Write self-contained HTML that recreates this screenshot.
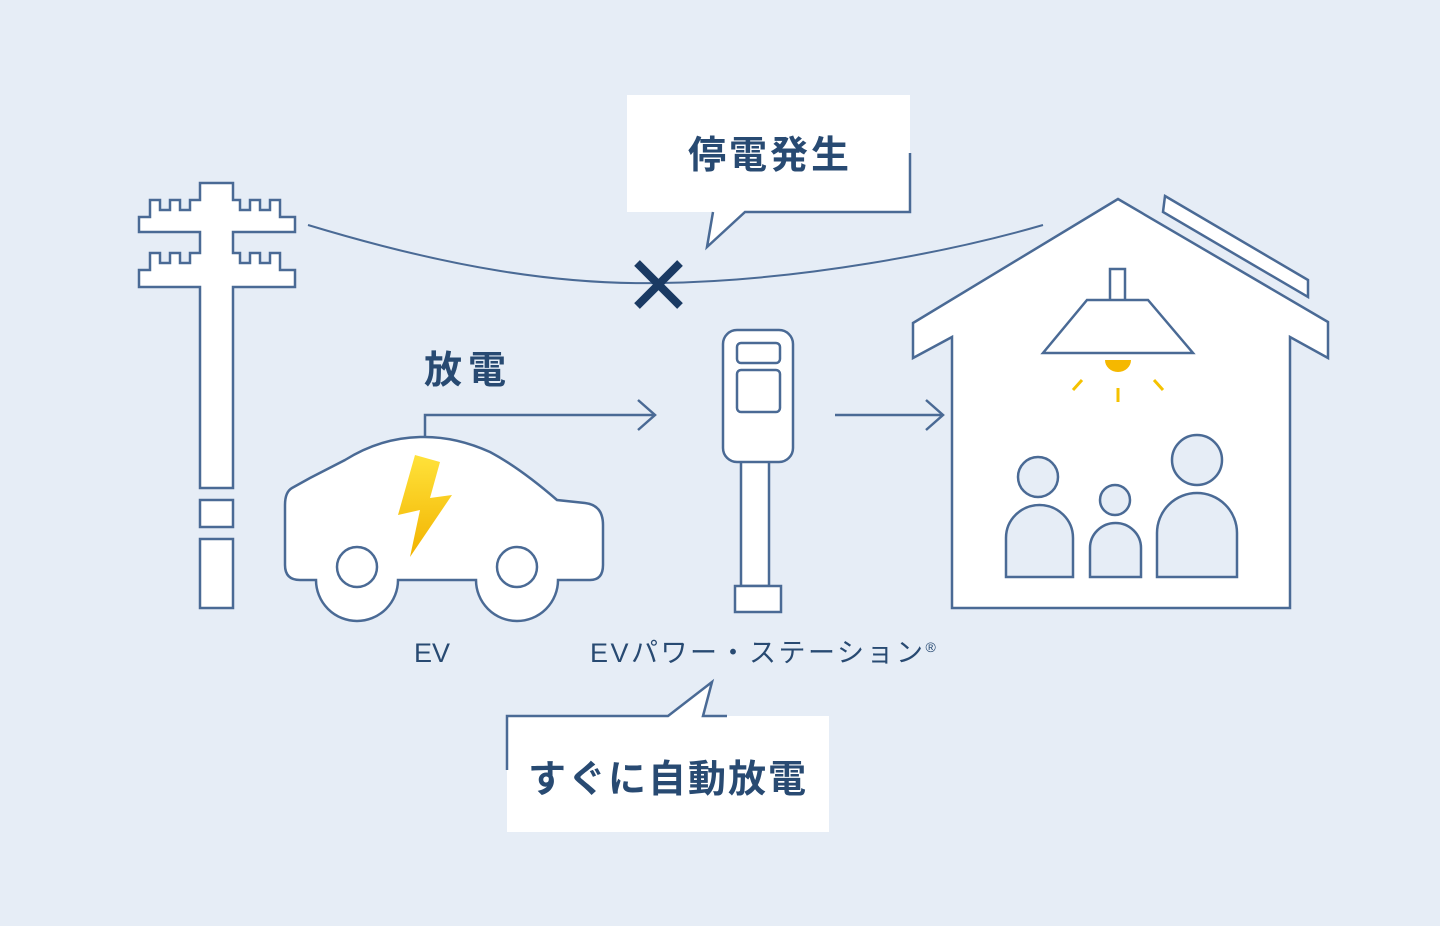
<!DOCTYPE html>
<html><head><meta charset="utf-8"><style>
html,body{margin:0;padding:0;background:#e6edf6;}
svg{display:block}
text{font-family:"Liberation Sans","Noto Sans CJK JP",sans-serif;fill:#284a72}
</style></head><body>
<svg width="1440" height="926" viewBox="0 0 1440 926" xmlns="http://www.w3.org/2000/svg">
<defs><linearGradient id="g" x1="0" y1="0" x2="0" y2="1"><stop offset="0" stop-color="#ffe23a"/><stop offset="1" stop-color="#f2b300"/></linearGradient></defs>
<rect width="1440" height="926" fill="#e6edf6"/>
<g fill="#fff" stroke="#4a6a95" stroke-width="2.5" stroke-linejoin="miter">
<path d="M200 183 H233 V200 H240 V210 H250 V200 H260 V210 H270 V200 H280 V217 H295 V232 H233 V253 H240 V263 H250 V253 H260 V263 H270 V253 H280 V270 H295 V287 H233 V488 H200 V287 H139 V270 H150 V253 H160 V263 H170 V253 H180 V263 H190 V253 H200 V232 H139 V217 H150 V200 H160 V210 H170 V200 H180 V210 H190 V200 H200 Z"/>
<rect x="200" y="500" width="33" height="27"/>
<rect x="200" y="539" width="33" height="69"/>
<path d="M292 488 Q285 492 285 505 L285 565 Q285 580 300 580 L316 580 A41 41 0 0 0 398 580 L476 580 A41 41 0 0 0 558 580 L590 580 Q603 580 603 565 L603 525 Q603 505 585 503 L557 500 Q520 468 490 452 Q455 436 420 437 Q380 438 345 460 L310 478 Z"/>
<circle cx="357" cy="567" r="20"/>
<circle cx="517" cy="567" r="20"/>
<rect x="741" y="460" width="28" height="126"/>
<rect x="735" y="586" width="46" height="26"/>
<rect x="723" y="330" width="70" height="132" rx="14"/>
<rect x="737" y="343" width="43" height="20" rx="4"/>
<rect x="737" y="370" width="43" height="42" rx="4"/>
<path d="M1118 199 L1328 322 L1328 358 L1290 337 L1290 608 L952 608 L952 337 L913 358 L913 323 Z"/>
<polygon points="1165,196 1308,280 1308,297 1163,212"/>
<rect x="1110" y="269" width="15" height="32"/>
<polygon points="1087,300 1148,300 1193,353 1043,353"/>
<g fill="#e6edf6">
<circle cx="1038" cy="477" r="20"/>
<path d="M1006 577 V538 A33.5 33 0 0 1 1073 538 V577 Z"/>
<circle cx="1115" cy="500" r="15"/>
<path d="M1090 577 V548 A25.5 25 0 0 1 1141 548 V577 Z"/>
<circle cx="1197" cy="460" r="25"/>
<path d="M1157 577 V533 A40 40 0 0 1 1237 533 V577 Z"/>
</g>
</g>
<path d="M1105 360 A13 12 0 0 0 1131 360 Z" fill="#f5b800"/>
<g stroke="#f5c200" stroke-width="3"><line x1="1073" y1="390" x2="1082" y2="380"/><line x1="1118" y1="388" x2="1118" y2="402"/><line x1="1154" y1="380" x2="1163" y2="390"/></g>
<polygon points="415,455 398,515 420,510 410,557 452,495 430,498 440,462" fill="url(#g)"/>
<path d="M308 225 C 450 268, 560 285, 660 283 C 800 281, 950 252, 1043 225" fill="none" stroke="#4a6a95" stroke-width="2"/>
<g stroke="#1a3a63" stroke-width="8"><line x1="637" y1="263" x2="680" y2="306"/><line x1="680" y1="263" x2="637" y2="306"/></g>
<g fill="none" stroke="#4a6a95" stroke-width="2.5">
<path d="M425 437 V415 H655"/><path d="M638 400 L655 415 L638 430"/>
<path d="M835 415 H943"/><path d="M926 400 L943 415 L926 430"/>
</g>
<path d="M627 95 H910 V212 H745 L707 247 L713 212 H627 Z" fill="#fff"/>
<path d="M910 153 V212 H745 L707 247 L713 212" fill="none" stroke="#4a6a95" stroke-width="2.5"/>
<text x="770" y="168" font-size="38" font-weight="bold" text-anchor="middle" letter-spacing="3">停電発生</text>
<path d="M507 716 H668 L712 682 L703 716 H829 V832 H507 Z" fill="#fff"/>
<path d="M507 770 V716 H668 L712 682 L703 716 H727" fill="none" stroke="#4a6a95" stroke-width="2.5"/>
<text x="668" y="792" font-size="38" font-weight="bold" text-anchor="middle" letter-spacing="2">すぐに自動放電</text>
<text x="468" y="383" font-size="38" font-weight="bold" text-anchor="middle" letter-spacing="6">放電</text>
<text x="432" y="662" font-size="27" text-anchor="middle">EV</text>
<text x="590" y="662" font-size="27" letter-spacing="2.5">EVパワー・ステーション<tspan font-size="14" dy="-10">®</tspan></text>
</svg>
</body></html>
